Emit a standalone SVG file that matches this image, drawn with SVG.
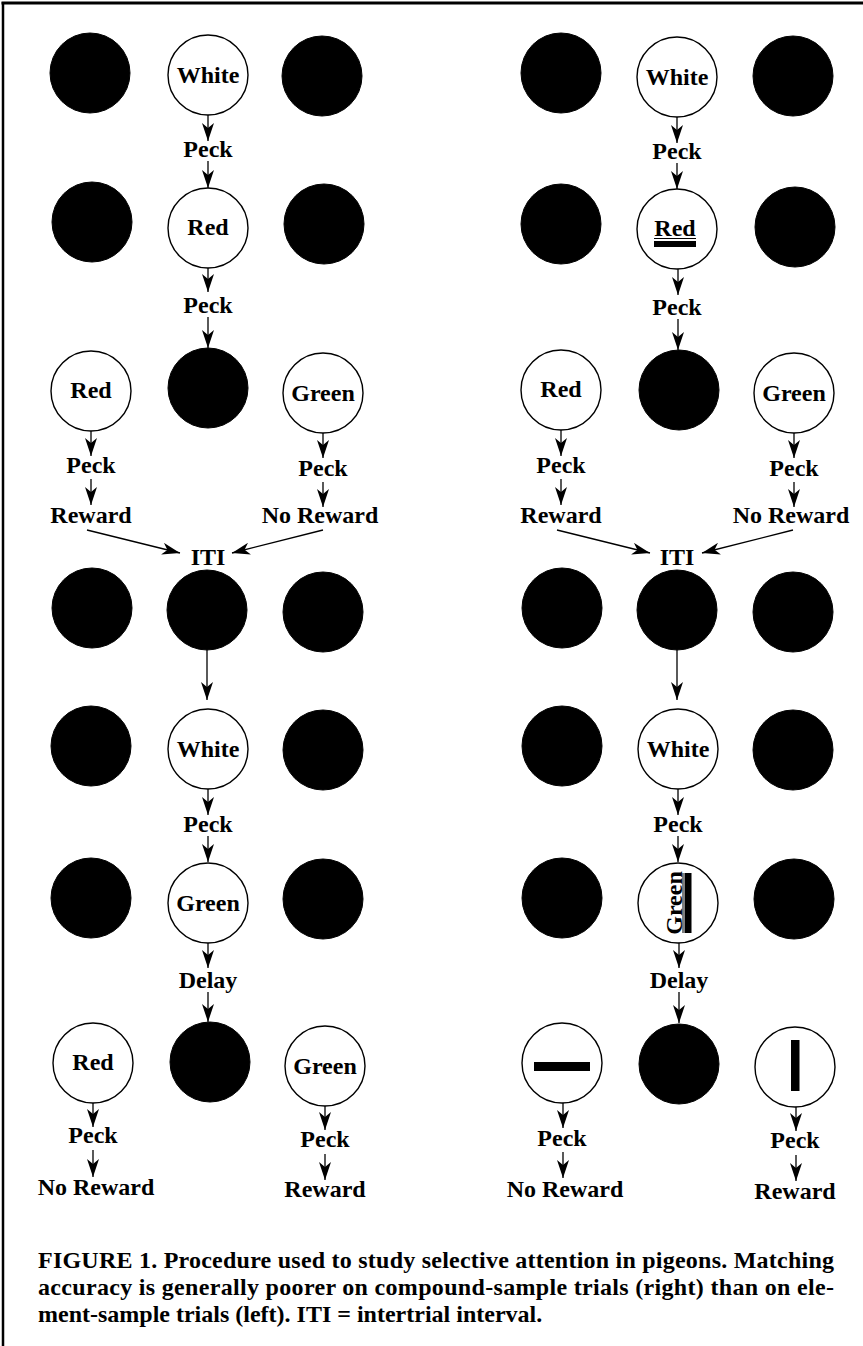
<svg xmlns="http://www.w3.org/2000/svg" width="863" height="1346" viewBox="0 0 863 1346">
<style>
.blk{fill:#000;stroke:#000;stroke-width:1}
.opn{fill:#fff;stroke:#000;stroke-width:1.4}
.lbl{font-family:"Liberation Serif","Times New Roman",serif;font-weight:bold;font-size:24px;fill:#000;text-anchor:middle}
.cap{font-family:"Liberation Serif","Times New Roman",serif;font-weight:bold;font-size:24px;fill:#000}
.con{stroke:#000;stroke-width:1.3;fill:none;marker-end:url(#ah)}
</style>
<defs>
<marker id="ah" markerWidth="18" markerHeight="12" refX="18" refY="6" orient="auto" markerUnits="userSpaceOnUse"><path d="M0,0 L18,6 L0,12 L5,6 Z" fill="#000"/></marker>
</defs>
<rect width="863" height="1346" fill="#fff"/>
<g id="frame"><line x1="1.5" y1="3" x2="863" y2="3" stroke="#000" stroke-width="3"/><line x1="3" y1="2" x2="3" y2="1346" stroke="#000" stroke-width="2.5"/></g>

<!-- LEFT PANEL -->
<g id="L-r1"><circle class="blk" cx="90" cy="73" r="40"/><g id="L-white1"><circle class="opn" cx="208" cy="75" r="40"/><text class="lbl" x="208" y="83">White</text></g><circle class="blk" cx="322" cy="76" r="40"/></g>
<g id="L-r2"><circle class="blk" cx="92" cy="222" r="40"/><g id="L-red1"><circle class="opn" cx="208" cy="228" r="40"/><text class="lbl" x="208" y="235">Red</text></g><circle class="blk" cx="324" cy="224" r="40"/></g>
<g id="L-r3"><g id="L-red2"><circle class="opn" cx="91" cy="391" r="40"/><text class="lbl" x="91" y="398">Red</text></g><circle class="blk" cx="208" cy="388" r="40"/><g id="L-green2"><circle class="opn" cx="323" cy="393" r="40"/><text class="lbl" x="323" y="401">Green</text></g></g>
<g id="L-r4"><circle class="blk" cx="92" cy="608" r="40"/><circle class="blk" cx="207" cy="610" r="40"/><circle class="blk" cx="323" cy="612" r="40"/></g>
<g id="L-r5"><circle class="blk" cx="91" cy="746" r="40"/><g id="L-white5"><circle class="opn" cx="208" cy="749" r="40"/><text class="lbl" x="208" y="757">White</text></g><circle class="blk" cx="323" cy="750" r="40"/></g>
<g id="L-r6"><circle class="blk" cx="91" cy="898" r="40"/><g id="L-green6"><circle class="opn" cx="208" cy="903" r="40"/><text class="lbl" x="208" y="911">Green</text></g><circle class="blk" cx="323" cy="899" r="40"/></g>
<g id="L-r7"><g id="L-red7"><circle class="opn" cx="93" cy="1063" r="40"/><text class="lbl" x="93" y="1070">Red</text></g><circle class="blk" cx="210" cy="1062" r="40"/><g id="L-green7"><circle class="opn" cx="325" cy="1066" r="40"/><text class="lbl" x="325" y="1074">Green</text></g></g>
<g id="L-labels">
<text class="lbl" x="208" y="157">Peck</text>
<text class="lbl" x="208" y="313">Peck</text>
<text class="lbl" x="91" y="473">Peck</text>
<text class="lbl" x="91" y="523">Reward</text>
<text class="lbl" x="323" y="476">Peck</text>
<text class="lbl" x="320" y="523">No Reward</text>
<text class="lbl" x="208" y="565">ITI</text>
<text class="lbl" x="208" y="832">Peck</text>
<text class="lbl" x="208" y="988">Delay</text>
<text class="lbl" x="93" y="1143">Peck</text>
<text class="lbl" x="96" y="1195">No Reward</text>
<text class="lbl" x="325" y="1147">Peck</text>
<text class="lbl" x="325" y="1197">Reward</text>
</g>

<!-- RIGHT PANEL -->
<g id="R-r1"><circle class="blk" cx="561" cy="73" r="40"/><g id="R-white1"><circle class="opn" cx="677" cy="77" r="40"/><text class="lbl" x="677" y="85">White</text></g><circle class="blk" cx="793" cy="76" r="40"/></g>
<g id="R-r2"><circle class="blk" cx="561" cy="224" r="40"/><g id="R-red1"><circle class="opn" cx="677" cy="229" r="40"/><text class="lbl" x="675" y="236">Red</text><line x1="654" y1="238.5" x2="696" y2="238.5" stroke="#000" stroke-width="1"/><rect x="654" y="241" width="42" height="6" fill="#000"/></g><circle class="blk" cx="795" cy="227" r="40"/></g>
<g id="R-r3"><g id="R-red2"><circle class="opn" cx="561" cy="390" r="40"/><text class="lbl" x="561" y="397">Red</text></g><circle class="blk" cx="679" cy="390" r="40"/><g id="R-green2"><circle class="opn" cx="794" cy="393" r="40"/><text class="lbl" x="794" y="401">Green</text></g></g>
<g id="R-r4"><circle class="blk" cx="562" cy="608" r="40"/><circle class="blk" cx="677" cy="610" r="40"/><circle class="blk" cx="793" cy="612" r="40"/></g>
<g id="R-r5"><circle class="blk" cx="562" cy="746" r="40"/><g id="R-white5"><circle class="opn" cx="678" cy="749" r="40"/><text class="lbl" x="678" y="757">White</text></g><circle class="blk" cx="793" cy="750" r="40"/></g>
<g id="R-r6"><circle class="blk" cx="562" cy="898" r="40"/><g id="R-green6"><circle class="opn" cx="678" cy="903" r="40"/><text class="lbl" x="0" y="0" font-size="23" transform="translate(681.5,903) rotate(-90)">Green</text><line x1="683" y1="873" x2="683" y2="933" stroke="#000" stroke-width="1"/><rect x="684.5" y="873" width="7" height="60" fill="#000"/></g><circle class="blk" cx="794" cy="899" r="40"/></g>
<g id="R-r7"><g id="R-hbar"><circle class="opn" cx="562" cy="1063" r="40"/><rect x="534" y="1062" width="56" height="9" fill="#000"/></g><circle class="blk" cx="679" cy="1064" r="40"/><g id="R-vbar"><circle class="opn" cx="795" cy="1067" r="40"/><rect x="791" y="1040" width="8.5" height="51" fill="#000"/></g></g>
<g id="R-labels">
<text class="lbl" x="677" y="159">Peck</text>
<text class="lbl" x="677" y="315">Peck</text>
<text class="lbl" x="561" y="473">Peck</text>
<text class="lbl" x="561" y="523">Reward</text>
<text class="lbl" x="794" y="476">Peck</text>
<text class="lbl" x="791" y="523">No Reward</text>
<text class="lbl" x="677" y="565">ITI</text>
<text class="lbl" x="678" y="832">Peck</text>
<text class="lbl" x="679" y="988">Delay</text>
<text class="lbl" x="562" y="1146">Peck</text>
<text class="lbl" x="565" y="1197">No Reward</text>
<text class="lbl" x="795" y="1148">Peck</text>
<text class="lbl" x="795" y="1199">Reward</text>
</g>

<g id="connectors">
<line class="con" x1="208" y1="115" x2="208" y2="141"/>
<line class="con" x1="208" y1="161" x2="208" y2="188"/>
<line class="con" x1="208" y1="268" x2="208" y2="292"/>
<line class="con" x1="208" y1="317" x2="208" y2="348"/>
<line class="con" x1="91" y1="431" x2="91" y2="456"/>
<line class="con" x1="91" y1="479" x2="91" y2="505"/>
<line class="con" x1="323" y1="433" x2="323" y2="458"/>
<line class="con" x1="323" y1="482" x2="323" y2="507"/>
<line class="con" x1="87" y1="530" x2="180" y2="553"/>
<line class="con" x1="323" y1="530" x2="232" y2="553"/>
<line class="con" x1="207" y1="650" x2="207" y2="700"/>
<line class="con" x1="208" y1="789" x2="208" y2="815"/>
<line class="con" x1="208" y1="836" x2="208" y2="862"/>
<line class="con" x1="208" y1="943" x2="208" y2="968"/>
<line class="con" x1="208" y1="992" x2="208" y2="1022"/>
<line class="con" x1="93" y1="1103" x2="93" y2="1127"/>
<line class="con" x1="93" y1="1150" x2="93" y2="1177"/>
<line class="con" x1="325" y1="1106" x2="325" y2="1130"/>
<line class="con" x1="325" y1="1154" x2="325" y2="1180"/>

<line class="con" x1="677" y1="117" x2="677" y2="143"/>
<line class="con" x1="677" y1="163" x2="677" y2="189"/>
<line class="con" x1="678" y1="269" x2="678" y2="295"/>
<line class="con" x1="678" y1="319" x2="678" y2="350"/>
<line class="con" x1="561" y1="430" x2="561" y2="456"/>
<line class="con" x1="561" y1="479" x2="561" y2="505"/>
<line class="con" x1="794" y1="433" x2="794" y2="458"/>
<line class="con" x1="794" y1="482" x2="794" y2="507"/>
<line class="con" x1="557" y1="530" x2="650" y2="553"/>
<line class="con" x1="793" y1="530" x2="702" y2="553"/>
<line class="con" x1="677" y1="650" x2="677" y2="700"/>
<line class="con" x1="678" y1="789" x2="678" y2="815"/>
<line class="con" x1="678" y1="836" x2="678" y2="862"/>
<line class="con" x1="679" y1="943" x2="679" y2="968"/>
<line class="con" x1="679" y1="992" x2="679" y2="1023"/>
<line class="con" x1="563" y1="1103" x2="563" y2="1128"/>
<line class="con" x1="563" y1="1152" x2="563" y2="1178"/>
<line class="con" x1="796" y1="1107" x2="796" y2="1131"/>
<line class="con" x1="796" y1="1155" x2="796" y2="1181"/>
</g>

<g id="caption">
<text class="cap" x="38" y="1268" textLength="796" lengthAdjust="spacing">FIGURE 1. Procedure used to study selective attention in pigeons. Matching</text>
<text class="cap" x="38" y="1295" textLength="796" lengthAdjust="spacing">accuracy is generally poorer on compound-sample trials (right) than on ele-</text>
<text class="cap" x="38" y="1322">ment-sample trials (left). ITI = intertrial interval.</text>
</g>
</svg>
